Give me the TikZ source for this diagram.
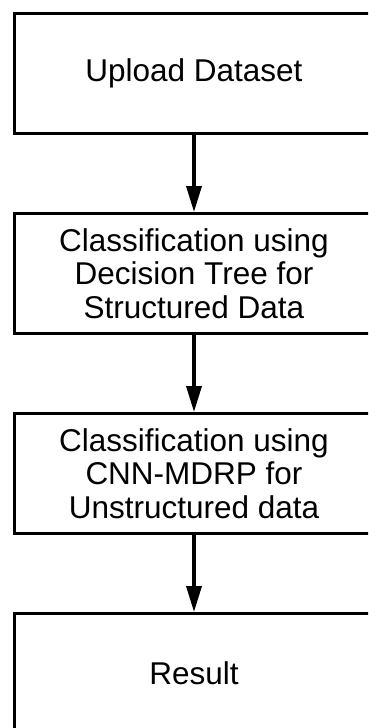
\documentclass[tikz,border=0pt]{standalone}
\usepackage{fontspec}
\setmainfont{Liberation Sans}
\usetikzlibrary{arrows.meta}

\tikzset{
  stepbox/.style={draw=black, line width=3pt, rectangle, minimum width=359pt, minimum height=120pt,
    align=center, inner sep=0pt, font=\fontsize{31.5}{33.5}\selectfont},
  flowarrow/.style={-{Triangle[width=15pt,length=26pt]}, black, line width=3.5pt}
}

\begin{document}
\begin{tikzpicture}[x=1pt,y=-1pt]
						\useasboundingbox (0,0) rectangle (368,728);
						\clip (0,0) rectangle (368,728);
						\node[stepbox] (upload) at (194,73.5) {Upload Dataset};
						\node[stepbox] (dtree) at (194,273.5) {Classification using\\Decision Tree for\\Structured Data};
						\node[stepbox] (cnn) at (194,473.5) {Classification using\\CNN-MDRP for\\Unstructured data};
						\node[stepbox] (result) at (194,673.5) {Result};
						\draw[flowarrow] (upload) -- (dtree);
						\draw[flowarrow] (dtree) -- (cnn);
						\draw[flowarrow] (cnn) -- (result);
					\end{tikzpicture}
\end{document}
